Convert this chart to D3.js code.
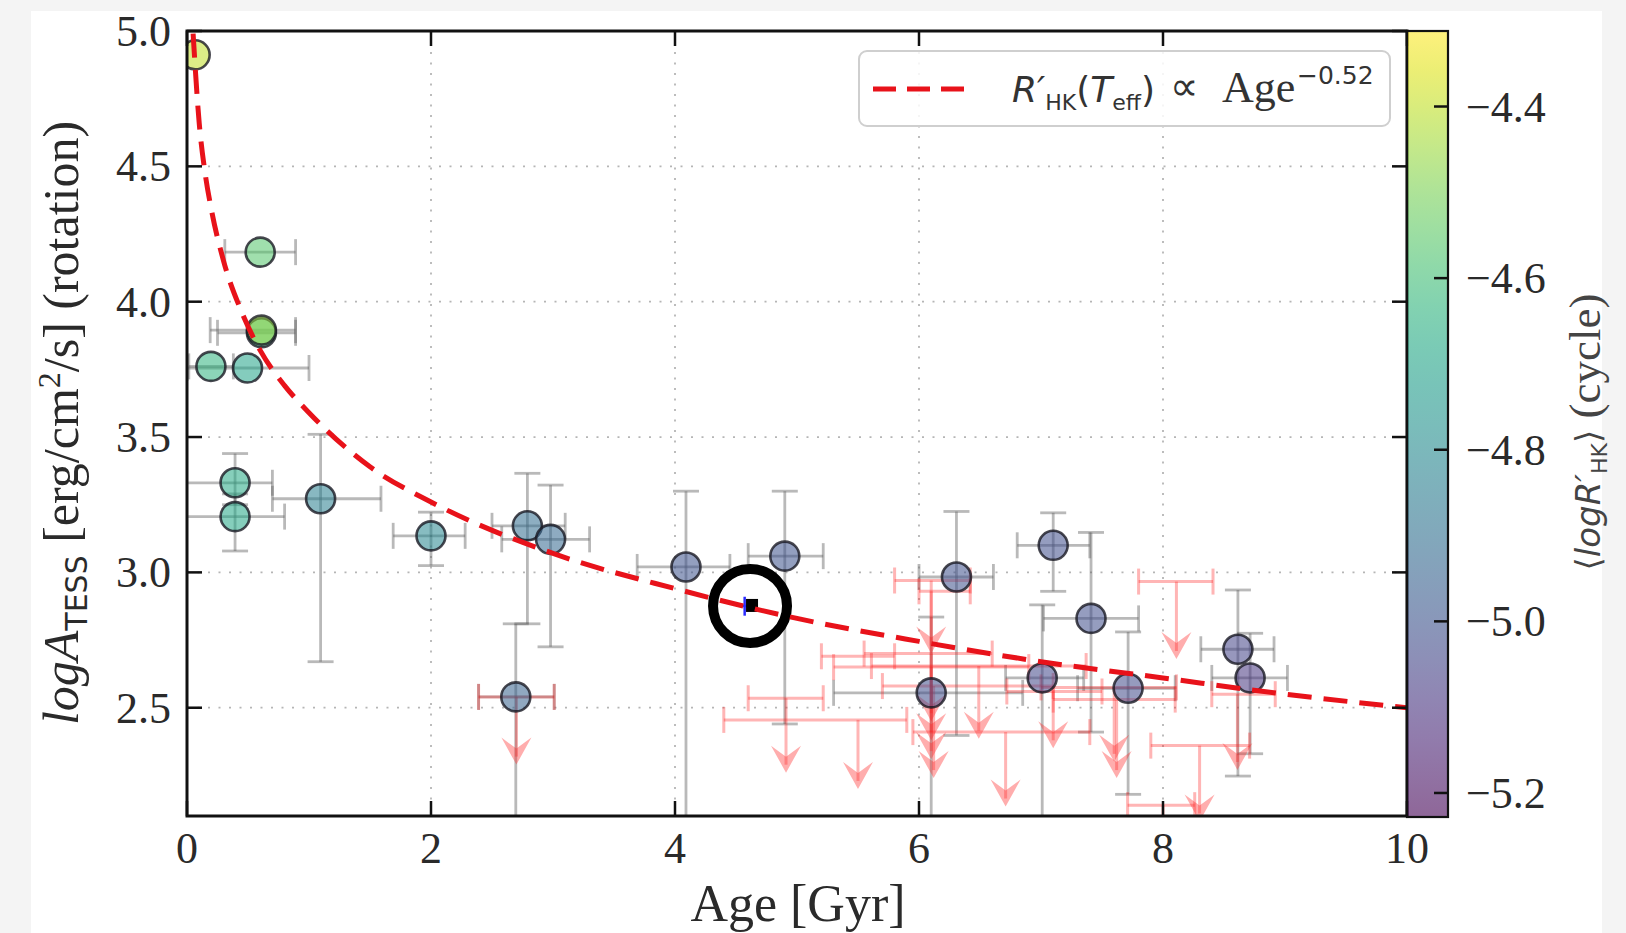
<!DOCTYPE html>
<html lang="en">
<head>
<meta charset="UTF-8">
<title>Activity vs Age</title>
<script src="https://d3js.org/d3.v7.min.js"></script>
<style>
  html, body { margin: 0; padding: 0; background: #f4f4f4; }
  svg { display: block; }
</style>
</head>
<body>
<div id="chart"></div>
<script>
// ---- data ----
// stars with a detected rotational signal (circles)
const ages    = [0.067, 0.61, 0.61, 0.60, 0.196, 0.496, 0.394, 0.394, 1.095, 2.00, 2.79, 2.98, 2.695, 4.09, 4.90, 6.307, 7.10, 7.41, 7.01, 6.10, 8.614, 8.714, 7.714];
const logA    = [4.912, 3.885, 3.895, 4.183, 3.761, 3.755, 3.331, 3.206, 3.272, 3.135, 3.172, 3.122, 2.540, 3.020, 3.060, 2.983, 3.100, 2.830, 2.610, 2.555, 2.716, 2.610, 2.572];
const ageLo   = [null, 0.25, 0.19, 0.31, 0.015, 0.00, -0.01, -0.01, 0.70, 1.69, 2.50, 2.58, 2.39, 3.69, 4.60, 6.00, 6.805, 7.02, 6.71, 5.30, 8.31, 8.40, 7.30];
const ageHi   = [null, 0.89, 0.89, 0.89, 0.38, 1.00, 0.70, 0.80, 1.59, 2.28, 3.10, 3.30, 3.01, 4.45, 5.215, 6.61, 7.40, 7.80, 7.35, 6.85, 8.91, 9.02, 8.10];
const logALo  = [null, null, null, null, null, null, 3.25, 3.079, 2.67, 3.025, 2.81, 2.725, 1.90, 1.90, 2.44, 2.3975, 2.93, 2.41, 1.90, 1.90, 2.2475, 2.33, 2.18];
const logAHi  = [null, null, null, null, null, null, 3.439, 3.29, 3.51, 3.2225, 3.366, 3.3225, 2.81, 3.30, 3.30, 3.225, 3.22, 3.1475, 2.88, 2.835, 2.935, 2.775, 2.78];
const logRHK  = [-4.40, -4.62, -4.46, -4.56, -4.64, -4.70, -4.68, -4.69, -4.84, -4.81, -4.91, -4.93, -4.95, -5.00, -5.00, -5.01, -5.02, -5.02, -5.04, -5.02, -5.05, -5.09, -5.03];

// upper limits (red arrows); null tip = bar only
const ulAge   = [2.70, 4.91, 5.50, 5.50, 6.10, 6.10, 6.10, 6.10, 6.12, 6.49, 6.71, 7.10, 7.60, 7.62, 8.11, 8.30, 8.00, 8.61];
const ulLogA  = [2.54, 2.535, 2.455, 2.69, 2.97, 2.93, 2.70, 2.65, 2.58, 2.654, 2.41, 2.56, 2.575, 2.53, 2.966, 2.36, 2.14, 2.55];
const ulAgeLo = [2.39, 4.60, 4.40, 5.20, 5.80, 6.00, 5.55, 5.30, 5.70, 5.61, 5.95, 6.72, 7.00, 7.10, 7.80, 7.90, 7.71, 8.40];
const ulAgeHi = [3.01, 5.215, 5.90, 5.80, 6.42, 6.42, 6.60, 6.90, 7.10, 7.37, 7.40, 7.50, 8.11, 8.10, 8.41, 8.71, 8.26, 8.92];
const ulTip   = [2.29, 2.26, 2.20, null, 2.70, 2.45, 2.38, 2.31, 2.24, 2.385, 2.135, 2.35, 2.30, 2.24, 2.68, 2.08, 1.95, 2.27];

// the Sun
const sunAge = 4.615, sunLogA = 2.876;
const sunErrAge = 4.571, sunErrLo = 2.84, sunErrHi = 2.91, sunErrAgeLo = 4.55, sunErrAgeHi = 4.60;

// fitted relation, points
const fitAge  = [0.05, 0.10, 0.15, 0.20, 0.30, 0.45, 0.60, 0.80, 1.0, 1.5, 2.0, 3.0, 4.0, 5.0, 6.0, 7.0, 8.0, 9.0, 10.0];
const fitLogA = [4.99, 4.66, 4.47, 4.34, 4.15, 3.96, 3.82, 3.69, 3.59, 3.39, 3.26, 3.07, 2.94, 2.83, 2.745, 2.67, 2.61, 2.55, 2.50];

const xTicks  = [0, 2, 4, 6, 8, 10];
const yTicks  = [2.5, 3.0, 3.5, 4.0, 4.5, 5.0];
const cbTicks = [-5.2, -5.0, -4.8, -4.6, -4.4];

// ---- layout ----
const W = 1626, H = 933;
const L = 187, R = 1407, T = 31, B = 816;
const cbL = 1407, cbR = 1448;
const serif = "'Liberation Serif', 'Times New Roman', serif";
const sans = "'DejaVu Sans', sans-serif";
const red = "#e8121a";

const svg = d3.select("#chart").append("svg")
    .attr("width", W).attr("height", H);

svg.append("rect").attr("x", 31).attr("y", 11).attr("width", 1571).attr("height", H - 11).attr("fill", "#fff");

const x = d3.scaleLinear().domain([0, 10]).range([L, R]);
const y = d3.scaleLinear().domain([2.1, 5.0]).range([B, T]);
const cb = d3.scaleLinear().domain([-5.228, -4.312]).range([817, T]);
const col = v => d3.interpolateViridis((v - cb.domain()[0]) / (cb.domain()[1] - cb.domain()[0]));

svg.append("clipPath").attr("id", "clip")
    .append("rect").attr("x", L).attr("y", T).attr("width", R - L).attr("height", B - T);

// grid
const grid = svg.append("g").attr("stroke", "#b5b5b5").attr("stroke-width", 1.8).attr("stroke-dasharray", "2,8.5");
grid.selectAll(".gx").data(xTicks.slice(1, -1)).join("line")
    .attr("x1", d => x(d)).attr("x2", d => x(d)).attr("y1", T).attr("y2", B);
grid.selectAll(".gy").data(yTicks.slice(0, -1)).join("line")
    .attr("y1", d => y(d)).attr("y2", d => y(d)).attr("x1", L).attr("x2", R);

const plot = svg.append("g").attr("clip-path", "url(#clip)");

// gray error bars
const gray = "rgba(100,100,100,0.45)";
const eb = plot.append("g").attr("stroke", gray).attr("stroke-width", 2.8).attr("fill", "none");
ages.forEach((a, i) => {
  const cy = y(logA[i]), cx = x(a);
  if (ageLo[i] != null) {
    eb.append("line").attr("x1", x(ageLo[i])).attr("x2", x(ageHi[i])).attr("y1", cy).attr("y2", cy);
    [ageLo[i], ageHi[i]].forEach(v => eb.append("line").attr("x1", x(v)).attr("x2", x(v)).attr("y1", cy - 13).attr("y2", cy + 13));
  }
  if (logALo[i] != null) {
    eb.append("line").attr("x1", cx).attr("x2", cx).attr("y1", y(logALo[i])).attr("y2", y(logAHi[i]));
    [logALo[i], logAHi[i]].forEach(v => eb.append("line").attr("y1", y(v)).attr("y2", y(v)).attr("x1", cx - 13).attr("x2", cx + 13));
  }
});

// upper limits
const ulCol = "rgba(255,30,30,0.33)";
const ul = plot.append("g");
ulAge.forEach((a, i) => {
  const cx = x(a), cy = y(ulLogA[i]);
  const g = ul.append("g").attr("stroke", ulCol).attr("stroke-width", 3).attr("fill", "none");
  g.append("line").attr("x1", x(ulAgeLo[i])).attr("x2", x(ulAgeHi[i])).attr("y1", cy).attr("y2", cy);
  [ulAgeLo[i], ulAgeHi[i]].forEach(v => g.append("line").attr("x1", x(v)).attr("x2", x(v)).attr("y1", cy - 13).attr("y2", cy + 13));
  if (ulTip[i] == null) return;
  const tip = y(ulTip[i]);
  g.append("line").attr("x1", cx).attr("x2", cx).attr("y1", cy).attr("y2", tip - 8);
  ul.append("path")
    .attr("d", `M${cx - 15},${tip - 27} L${cx},${tip} L${cx + 15},${tip - 27} L${cx},${tip - 16} Z`)
    .attr("fill", "rgba(255,40,40,0.38)").attr("stroke", "none");
});

// circles
plot.append("g").selectAll("circle").data(ages).join("circle")
    .attr("cx", d => x(d))
    .attr("cy", (d, i) => y(logA[i]))
    .attr("r", 14.5)
    .attr("fill", (d, i) => col(logRHK[i]))
    .attr("fill-opacity", 0.55)
    .attr("stroke", "rgba(25,25,35,0.8)")
    .attr("stroke-width", 2.6);

// the Sun
const sun = plot.append("g");
sun.append("line").attr("x1", x(sunErrAge)).attr("x2", x(sunErrAge)).attr("y1", y(sunErrLo)).attr("y2", y(sunErrHi))
    .attr("stroke", "#2b2bff").attr("stroke-width", 2.5);
sun.append("line").attr("x1", x(sunErrAgeLo)).attr("x2", x(sunErrAgeHi)).attr("y1", y(sunLogA)).attr("y2", y(sunLogA))
    .attr("stroke", "#2b2bff").attr("stroke-width", 2.5);
sun.append("rect").attr("x", x(sunAge) - 4).attr("y", y(sunLogA) - 7).attr("width", 12).attr("height", 13).attr("fill", "#000");
sun.append("circle").attr("cx", x(sunAge)).attr("cy", y(sunLogA)).attr("r", 37)
    .attr("fill", "none").attr("stroke", "#000").attr("stroke-width", 10);

// fit line
plot.append("path")
    .datum(fitAge.map((a, i) => [a, fitLogA[i]]))
    .attr("d", d3.line().x(d => x(d[0])).y(d => y(d[1])).curve(d3.curveMonotoneX))
    .attr("fill", "none").attr("stroke", red).attr("stroke-width", 5).attr("stroke-dasharray", "24,12");

// frame and ticks
const ax = svg.append("g").attr("stroke", "#111");
ax.append("rect").attr("x", L).attr("y", T).attr("width", R - L).attr("height", B - T)
    .attr("fill", "none").attr("stroke-width", 3);
xTicks.forEach(v => {
  ax.append("line").attr("x1", x(v)).attr("x2", x(v)).attr("y1", B).attr("y2", B - 15).attr("stroke-width", 2.5);
  ax.append("line").attr("x1", x(v)).attr("x2", x(v)).attr("y1", T).attr("y2", T + 15).attr("stroke-width", 2.5);
});
yTicks.forEach(v => {
  ax.append("line").attr("x1", L).attr("x2", L + 15).attr("y1", y(v)).attr("y2", y(v)).attr("stroke-width", 2.5);
  ax.append("line").attr("x1", R).attr("x2", R - 15).attr("y1", y(v)).attr("y2", y(v)).attr("stroke-width", 2.5);
});

const fmt = v => d3.format(".1f")(v).replace("-", "\u2212");
svg.append("g").selectAll("text").data(xTicks).join("text")
    .attr("x", d => x(d)).attr("y", 863).attr("text-anchor", "middle")
    .attr("font-family", serif).attr("font-size", 44).attr("fill", "#2a2a2a")
    .text(d => d);
svg.append("g").selectAll("text").data(yTicks).join("text")
    .attr("x", 171).attr("y", d => y(d) + 15).attr("text-anchor", "end")
    .attr("font-family", serif).attr("font-size", 44).attr("fill", "#2a2a2a")
    .text(fmt);

// colorbar
const grad = svg.append("defs").append("linearGradient").attr("id", "vir")
    .attr("x1", 0).attr("x2", 0).attr("y1", 1).attr("y2", 0);
d3.range(0, 1.0001, 0.05).forEach(t => grad.append("stop").attr("offset", t).attr("stop-color", d3.interpolateViridis(t)));
svg.append("rect").attr("x", cbL).attr("y", T).attr("width", cbR - cbL).attr("height", 817 - T)
    .attr("fill", "url(#vir)").attr("fill-opacity", 0.6);
svg.append("rect").attr("x", cbL).attr("y", T).attr("width", cbR - cbL).attr("height", 817 - T)
    .attr("fill", "none").attr("stroke", "#111").attr("stroke-width", 2.2);
cbTicks.forEach(v => {
  svg.append("line").attr("x1", cbR).attr("x2", cbR - 14).attr("y1", cb(v)).attr("y2", cb(v))
      .attr("stroke", "#111").attr("stroke-width", 2.5);
});
svg.append("g").selectAll("text").data(cbTicks).join("text")
    .attr("x", 1466).attr("y", d => cb(d) + 15)
    .attr("font-family", serif).attr("font-size", 44).attr("fill", "#2a2a2a")
    .text(fmt);

// colorbar label
const cbl = svg.append("text").attr("transform", "translate(1600,432) rotate(-90)")
    .attr("text-anchor", "middle").attr("fill", "#444").attr("font-size", 34).attr("font-family", sans);
cbl.append("tspan").text("\u27E8");
cbl.append("tspan").attr("font-style", "italic").text("logR\u2032");
cbl.append("tspan").attr("font-size", 22).attr("dy", 7).text("HK");
cbl.append("tspan").attr("dy", -7).text("\u27E9");
cbl.append("tspan").attr("font-family", serif).attr("font-size", 45).text(" (cycle)");

// axis labels
svg.append("text").attr("x", 798).attr("y", 921).attr("text-anchor", "middle")
    .attr("font-family", serif).attr("font-size", 52).attr("fill", "#2a2a2a").text("Age [Gyr]");

const yl = svg.append("text").attr("transform", "translate(78,423) rotate(-90)")
    .attr("text-anchor", "middle").attr("font-family", serif).attr("font-size", 50).attr("fill", "#2a2a2a");
yl.append("tspan").attr("font-style", "italic").text("log");
yl.append("tspan").attr("font-style", "italic").text("A");
yl.append("tspan").attr("font-family", sans).attr("font-size", 30).attr("dy", 9).text("TESS");
yl.append("tspan").attr("dy", -9).text(" [erg/cm");
yl.append("tspan").attr("font-size", 32).attr("dy", -18).text("2");
yl.append("tspan").attr("dy", 18).text("/s] (rotation)");

// legend
const lg = svg.append("g");
lg.append("rect").attr("x", 859).attr("y", 51).attr("width", 531).attr("height", 75).attr("rx", 8)
    .attr("fill", "#fff").attr("fill-opacity", 0.85).attr("stroke", "#cfcfcf").attr("stroke-width", 2);
lg.append("line").attr("x1", 873).attr("x2", 970).attr("y1", 89).attr("y2", 89)
    .attr("stroke", red).attr("stroke-width", 5).attr("stroke-dasharray", "23,11");
const lt = lg.append("text").attr("y", 102).attr("fill", "#333").attr("font-family", sans).attr("font-size", 36);
lt.append("tspan").attr("x", 1012).attr("font-style", "italic").text("R\u2032");
lt.append("tspan").attr("font-size", 22).attr("dy", 8).text("HK");
lt.append("tspan").attr("dy", -8).text("(");
lt.append("tspan").attr("font-style", "italic").text("T");
lt.append("tspan").attr("font-size", 22).attr("dy", 8).text("eff");
lt.append("tspan").attr("dy", -8).text(")");
lt.append("tspan").attr("x", 1170).attr("font-size", 40).attr("dy", -2).text("\u221D");
lt.append("tspan").attr("x", 1222).attr("dy", 2).attr("font-family", serif).attr("font-size", 44).text("Age");
lt.append("tspan").attr("x", 1297).attr("dy", -18).attr("font-size", 25).text("\u22120.52");
</script>
</body>
</html>
